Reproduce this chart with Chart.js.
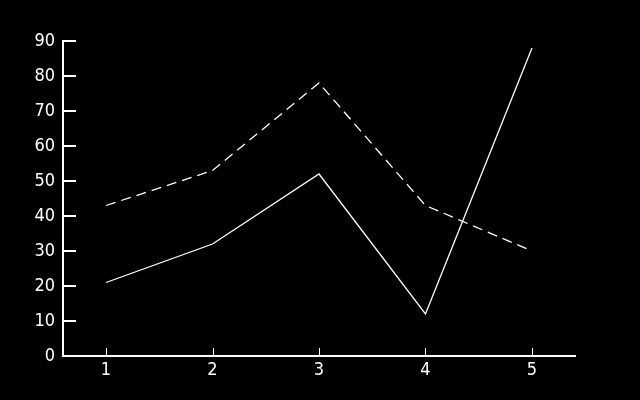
<!DOCTYPE html>
<html>
<head>
<meta charset="utf-8">
<script src="https://cdn.jsdelivr.net/npm/chart.js@4/dist/chart.umd.min.js"></script>
<style>
html,body{margin:0;padding:0;background:#000;}
#wrap{width:640px;height:400px;}
</style>
</head>
<body>
<div id="wrap"><canvas id="c" width="640" height="400"></canvas></div>
<script>
const categories = [1, 2, 3, 4, 5];
const solidSeries = [21, 32, 52, 12, 88];
const dashedSeries = [43, 53, 78, 43, 30];
const yTickValues = [0, 10, 20, 30, 40, 50, 60, 70, 80, 90];

const FONT = {family: '"Liberation Sans Narrow", "DejaVu Sans Condensed", "DejaVu Sans Mono", monospace', size: 18};

const bgPlugin = {
  id: 'bg',
  beforeDraw(chart) {
    const ctx = chart.ctx;
    ctx.save();
    ctx.fillStyle = '#000';
    ctx.fillRect(0, 0, chart.width, chart.height);
    ctx.restore();
  }
};

const innerTicks = {
  id: 'innerTicks',
  afterDraw(chart) {
    const ctx = chart.ctx;
    const xs = chart.scales.x, ys = chart.scales.y;
    ctx.save();
    ctx.strokeStyle = '#fff';
    ctx.lineWidth = 2;
    ys.ticks.forEach((t, i) => {
      const y = Math.round(ys.getPixelForTick(i));
      ctx.beginPath();
      ctx.moveTo(ys.right, y);
      ctx.lineTo(ys.right + 13, y);
      ctx.stroke();
    });
    ctx.lineWidth = 1;
    xs.ticks.forEach((t, i) => {
      const x = Math.round(xs.getPixelForTick(i)) + 0.5;
      ctx.beginPath();
      ctx.moveTo(x, xs.top);
      ctx.lineTo(x, xs.top - 8);
      ctx.stroke();
    });
    ctx.restore();
  }
};

new Chart(document.getElementById('c'), {
  type: 'line',
  data: {
    datasets: [
      {
        data: categories.map((c, i) => ({x: c, y: solidSeries[i]})),
        borderColor: '#fff',
        borderWidth: 1.3,
        pointRadius: 0,
        tension: 0,
        fill: false
      },
      {
        data: categories.map((c, i) => ({x: c, y: dashedSeries[i]})),
        borderColor: '#fff',
        borderWidth: 1.3,
        borderDash: [10, 6],
        pointRadius: 0,
        tension: 0,
        fill: false
      }
    ]
  },
  options: {
    responsive: false,
    animation: false,
    devicePixelRatio: 1,
    layout: {padding: {top: 41, right: 65, left: 0, bottom: 0}},
    plugins: {legend: {display: false}, tooltip: {enabled: false}},
    scales: {
      x: {
        type: 'linear',
        min: 0.596,
        max: 5.404,
        afterBuildTicks(scale) { scale.ticks = categories.map(v => ({value: v})); },
        afterFit(scale) { scale.height = 44; },
        grid: {display: true, drawOnChartArea: false, drawTicks: false},
        border: {display: true, color: '#fff', width: 2},
        ticks: {color: '#fff', font: FONT, padding: 4, maxRotation: 0, autoSkip: false}
      },
      y: {
        type: 'linear',
        min: 0,
        max: 90,
        afterBuildTicks(scale) { scale.ticks = yTickValues.map(v => ({value: v})); },
        afterFit(scale) { scale.width = 63; },
        grid: {display: true, drawOnChartArea: false, drawTicks: false},
        border: {display: true, color: '#fff', width: 2},
        ticks: {color: '#fff', font: FONT, padding: 8, autoSkip: false}
      }
    }
  },
  plugins: [bgPlugin, innerTicks]
});
</script>
</body>
</html>
